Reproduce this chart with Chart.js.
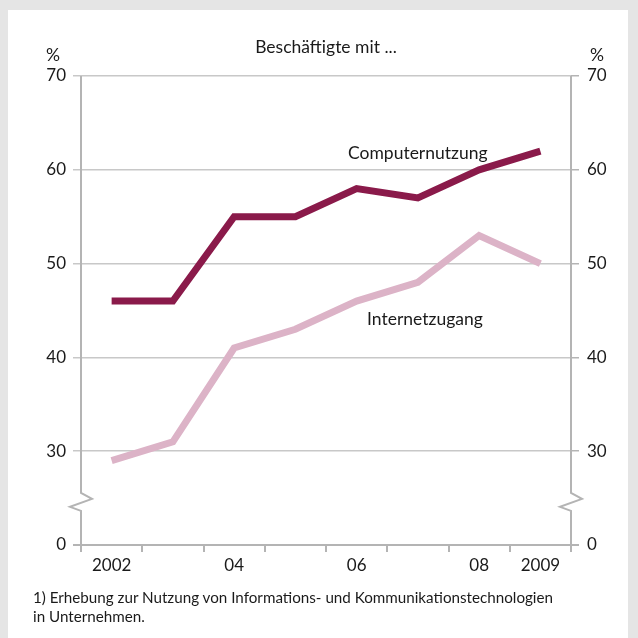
<!DOCTYPE html>
<html><head><meta charset="utf-8">
<script src="https://cdn.jsdelivr.net/npm/chart.js@4"></script>
<style>
html,body{margin:0;padding:0;background:#e5e5e5;width:638px;height:638px;overflow:hidden;font-family:Lato,"Noto Sans",sans-serif;}
#panel{position:absolute;left:8px;top:10px;width:620px;height:628px;background:#fff;}
#c{position:absolute;left:0;top:0;}
.t{position:absolute;color:#1a1a1a;font-size:17.5px;white-space:nowrap;line-height:1;}
</style></head><body>
<div id="panel"></div>
<canvas id="c" width="638" height="638"></canvas>
<div class="t" id="title" style="left:326px;top:38px;transform:translateX(-50%);">Beschäftigte mit ...</div>
<div class="t" style="left:53px;top:46px;transform:translateX(-50%);">%</div>
<div class="t" style="left:597px;top:46px;transform:translateX(-50%);">%</div>
<div class="t" style="left:348px;top:144px;">Computernutzung</div>
<div class="t" style="left:367px;top:310px;">Internetzugang</div>
<div class="t" style="left:33px;top:588px;font-size:15.2px;line-height:19px;">1) Erhebung zur Nutzung von Informations- und Kommunikationstechnologien<br>in Unternehmen.</div>
<script>
const years = ["2002","2003","2004","2005","2006","2007","2008","2009"];
const xTickLabels = ["2002","","04","","06","","08","2009"];
const computernutzung = [46,46,55,55,58,57,60,62];
const internetzugang = [29,31,41,43,46,48,53,50];
const yTickValues = [20,30,40,50,60,70];
const yTickLabels = ["0","30","40","50","60","70"];

const AXIS = '#b4b4b4', GRID = '#c8c8c8', TXT = '#1a1a1a';
const font = {family:'Lato, "Noto Sans", sans-serif', size:17};

const breakPlugin = {
  id:'axisBreak',
  afterDraw(chart){
    const {ctx, chartArea:a, scales:{y}} = chart;
    const yb = y.getPixelForValue(24.6);
    ctx.save();
    ctx.strokeStyle = AXIS; ctx.lineWidth = 2; ctx.lineJoin='miter';
    [a.left, a.right].forEach(x=>{
      ctx.beginPath();
      ctx.moveTo(x, a.top);
      ctx.lineTo(x, yb-9);
      ctx.lineTo(x+11, yb-3);
      ctx.lineTo(x-11, yb+5);
      ctx.lineTo(x, yb+9);
      ctx.lineTo(x, a.bottom+1);
      ctx.stroke();
    });
    ctx.restore();
  }
};

const yTickCb = (v)=>{ const i = yTickValues.indexOf(v); return i>=0 ? yTickLabels[i] : ''; };

new Chart(document.getElementById('c'), {
  type:'line',
  data:{
    labels: years,
    datasets:[
      {label:'Internetzugang', data:internetzugang, borderColor:'#dcb3c7', borderWidth:7, pointRadius:0, tension:0, borderJoinStyle:'miter', borderCapStyle:'butt', yAxisID:'y'},
      {label:'Computernutzung', data:computernutzung, borderColor:'#8a1a4a', borderWidth:7, pointRadius:0, tension:0, borderJoinStyle:'miter', borderCapStyle:'butt', yAxisID:'y'}
    ]
  },
  options:{
    responsive:false, animation:false,
    layout:{padding:{top:76,left:0,right:0,bottom:0}},
    plugins:{legend:{display:false}, tooltip:{enabled:false}, title:{display:false}},
    scales:{
      x:{
        type:'category', offset:true,
        grid:{offset:true, drawOnChartArea:false, drawTicks:true, tickLength:7, color:AXIS, lineWidth:2},
        border:{display:false},
        ticks:{autoSkip:false, maxRotation:0, color:TXT, font, padding:3, callback:(v,i)=>xTickLabels[i]},
        afterFit:(s)=>{s.height = 93;}
      },
      y:{
        type:'linear', position:'left', min:20, max:70,
        afterBuildTicks:(s)=>{ s.ticks = yTickValues.map(v=>({value:v})); },
        grid:{drawOnChartArea:true, tickLength:8,
          color:(c)=> c.tick && c.tick.value===20 ? AXIS : GRID,
          lineWidth:(c)=> c.tick && c.tick.value===20 ? 2 : 1.5},
        border:{display:false},
        ticks:{color:TXT, font, padding:7, callback:yTickCb},
        afterFit:(s)=>{s.width = 81;}
      },
      y2:{
        type:'linear', position:'right', min:20, max:70,
        afterBuildTicks:(s)=>{ s.ticks = yTickValues.map(v=>({value:v})); },
        grid:{drawOnChartArea:false, tickLength:8, color:AXIS, lineWidth:(c)=> c.tick && c.tick.value===20 ? 2 : 1.5},
        border:{display:false},
        ticks:{color:TXT, font, padding:8, callback:yTickCb},
        afterFit:(s)=>{s.width = 67;}
      }
    }
  },
  plugins:[breakPlugin]
});
</script>
</body></html>
